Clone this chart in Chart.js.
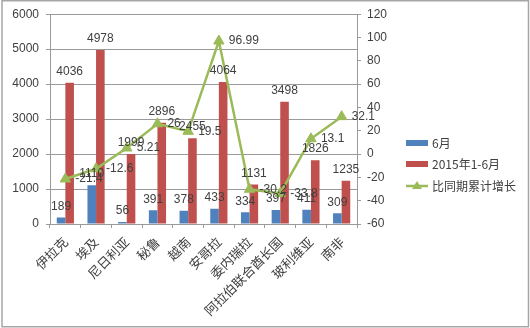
<!DOCTYPE html>
<html>
<head>
<meta charset="utf-8">
<script src="https://cdn.jsdelivr.net/npm/chart.js@4/dist/chart.umd.min.js"></script>
<style>
  html, body { margin: 0; padding: 0; background: #fff; }
  #wrap { width: 530px; height: 328px; }
</style>
</head>
<body>
<div id="wrap"><canvas id="chart" width="530" height="328"></canvas></div>
<script>
const categories = ['伊拉克', '埃及', '尼日利亚', '秘鲁', '越南', '安哥拉', '委内瑞拉', '阿拉伯联合酋长国', '玻利维亚', '南非'];
const juneValues = [189, 1110, 56, 391, 378, 433, 334, 397, 411, 309];
const halfYearValues = [4036, 4978, 1999, 2896, 2455, 4064, 1131, 3498, 1826, 1235];
const growthValues = [-21.4, -12.6, 5.21, 26, 19.5, 96.99, -30.2, -33.8, 13.1, 32.1];
const seriesNames = ['6月', '2015年1-6月', '比同期累计增长'];

const numFont = '"Liberation Sans", Arial, sans-serif';
const cjkFont = '"Noto Sans CJK SC", sans-serif';
const textColor = '#404040';
const gridColor = '#9a9a9a';

// value labels above bars and to the right of line points
const valueLabels = {
  id: 'valueLabels',
  afterDatasetsDraw(chart) {
    const ctx = chart.ctx;
    ctx.save();
    ctx.font = '12px ' + numFont;
    ctx.fillStyle = textColor;
    chart.data.datasets.forEach((ds, i) => {
      const meta = chart.getDatasetMeta(i);
      meta.data.forEach((el, j) => {
        const v = ds.data[j];
        if (ds.type === 'line') {
          ctx.textAlign = 'left';
          ctx.textBaseline = 'middle';
          ctx.fillText(String(v), el.x + 10, el.y);
        } else {
          ctx.textAlign = 'center';
          ctx.textBaseline = 'bottom';
          ctx.fillText(String(v), el.x, el.y - 5);
        }
      });
    });
    ctx.restore();
  }
};

// legend block on the right plus the outer frame
const sideLegend = {
  id: 'sideLegend',
  afterDraw(chart) {
    const ctx = chart.ctx;
    const x = 406, w = 22;
    const rows = [143, 164, 186];
    ctx.save();
    chart.data.datasets.forEach((ds, i) => {
      const y = rows[i];
      if (ds.type === 'line') {
        ctx.strokeStyle = ds.borderColor;
        ctx.lineWidth = 2.5;
        ctx.beginPath();
        ctx.moveTo(x, y);
        ctx.lineTo(x + w, y);
        ctx.stroke();
        ctx.fillStyle = ds.borderColor;
        ctx.beginPath();
        ctx.moveTo(x + w / 2, y - 5);
        ctx.lineTo(x + w / 2 + 5, y + 3);
        ctx.lineTo(x + w / 2 - 5, y + 3);
        ctx.closePath();
        ctx.fill();
      } else {
        ctx.fillStyle = ds.backgroundColor;
        ctx.fillRect(x, y - 3, w, 6);
      }
      ctx.fillStyle = textColor;
      ctx.font = '12px ' + cjkFont;
      ctx.textAlign = 'left';
      ctx.textBaseline = 'middle';
      ctx.fillText(ds.label, x + w + 4, y);
    });
    ctx.strokeStyle = '#a6a6a6';
    ctx.lineWidth = 1.5;
    ctx.strokeRect(2, 0.75, 526.5, 326);
    ctx.restore();
  }
};

new Chart(document.getElementById('chart'), {
  type: 'bar',
  data: {
    labels: categories,
    datasets: [
      {
        label: seriesNames[0],
        data: juneValues,
        yAxisID: 'y',
        backgroundColor: '#4F81BD',
        barPercentage: 1,
        categoryPercentage: 0.56,
        order: 1
      },
      {
        label: seriesNames[1],
        data: halfYearValues,
        yAxisID: 'y',
        backgroundColor: '#C0504D',
        barPercentage: 1,
        categoryPercentage: 0.56,
        order: 2
      },
      {
        type: 'line',
        label: seriesNames[2],
        data: growthValues,
        yAxisID: 'y1',
        borderColor: '#9BBB59',
        backgroundColor: '#9BBB59',
        borderWidth: 2.5,
        pointStyle: 'triangle',
        pointRadius: 6,
        pointBorderWidth: 1,
        tension: 0,
        order: 0
      }
    ]
  },
  options: {
    responsive: false,
    animation: false,
    devicePixelRatio: 1,
    layout: { padding: { top: 14, left: 0, right: 0, bottom: 0 } },
    plugins: {
      legend: { display: false },
      tooltip: { enabled: false }
    },
    scales: {
      x: {
        grid: { drawOnChartArea: false, drawTicks: true, tickLength: 4, color: gridColor, offset: true },
        border: { color: gridColor },
        ticks: {
          maxRotation: 45,
          minRotation: 45,
          padding: 6,
          color: textColor,
          font: { family: cjkFont, size: 13 }
        },
        afterFit(scale) { scale.height = 104; }
      },
      y: {
        position: 'left',
        min: 0,
        max: 6000,
        ticks: {
          stepSize: 1000,
          padding: 7,
          color: textColor,
          font: { family: numFont, size: 12 },
          callback: (v) => String(v)
        },
        grid: { color: gridColor, tickLength: 4 },
        border: { color: gridColor },
        afterFit(scale) { scale.width = 50; }
      },
      y1: {
        position: 'right',
        min: -60,
        max: 120,
        ticks: {
          stepSize: 20,
          padding: 6,
          color: textColor,
          font: { family: numFont, size: 12 },
          callback: (v) => String(v)
        },
        grid: { drawOnChartArea: false, tickLength: 4, color: gridColor },
        border: { color: gridColor },
        afterFit(scale) { scale.width = 173; }
      }
    }
  },
  plugins: [valueLabels, sideLegend]
});
</script>
</body>
</html>
